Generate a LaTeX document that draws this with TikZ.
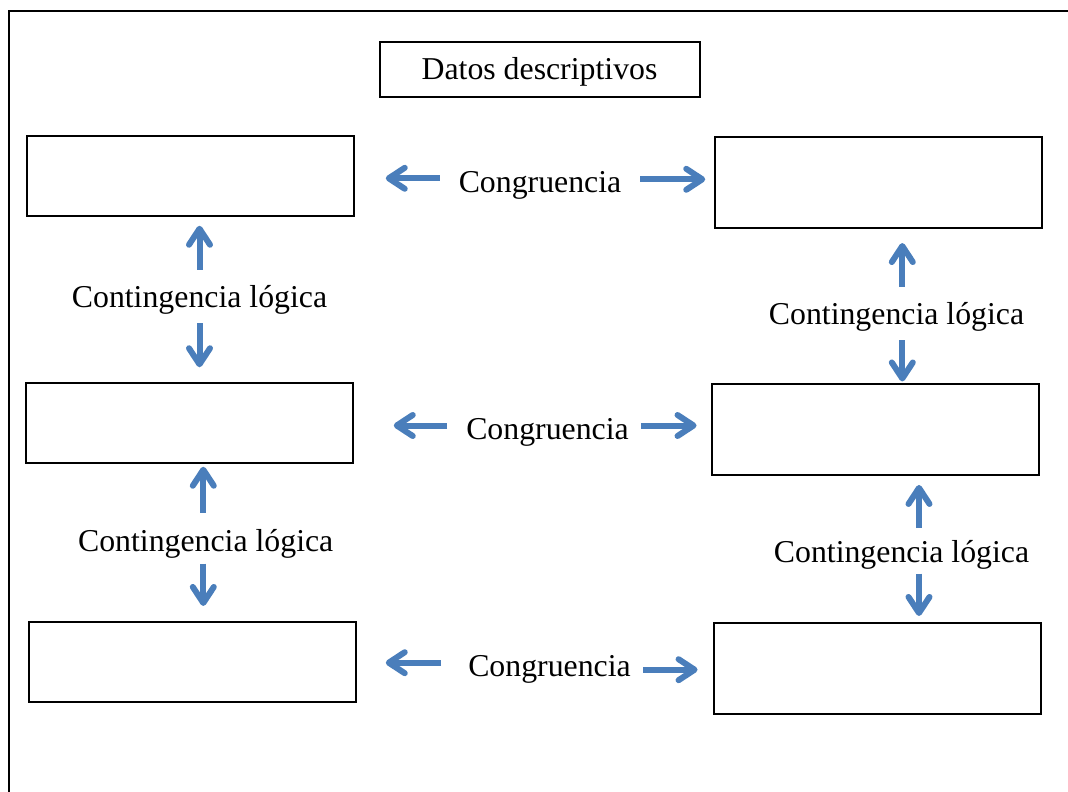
\documentclass[tikz,border=0pt]{standalone}
\usepackage{fontspec}
\setmainfont{Liberation Serif}
\usepackage{tikz}
\usetikzlibrary{positioning, arrows.meta}
\definecolor{arrowblue}{RGB}{74,126,187}

\begin{document}
\fontsize{31.8pt}{38pt}\selectfont
\begin{tikzpicture}[x=1pt, y=-1pt,
    box/.style={draw, line width=1.5pt, minimum width=327pt, minimum height=80pt, inner sep=0pt},
    tallbox/.style={box, minimum height=91pt},
    lbl/.style={inner sep=0pt, text height=22pt, text depth=7pt, anchor=base},
    arrow/.style={-{Straight Barb[round, length=16pt, width=21pt]}, line width=6pt, draw=arrowblue},
]
\useasboundingbox (0,0) rectangle (1068,792);

% Frame
\draw[line width=2pt] (9,792) -- (9,11) -- (1068,11);

% Boxes
\node[box, line width=2pt, minimum width=320pt, minimum height=55pt, text height=22pt, text depth=1pt] (title) at (539.5,69.5) {Datos descriptivos};
\node[box] (l1) at (190.5,176) {};
\node[tallbox] (r1) at (878.5,182.5) {};
\node[box] (l2) at (189.5,423) {};
\node[tallbox] (r2) at (875.5,429.7) {};
\node[box] (l3) at (192.5,662) {};
\node[tallbox] (r3) at (877.5,668.5) {};

% Labels
\node[lbl] (cong1) at (540,192.3) {Congruencia};
\node[lbl] (cong2) at (547.5,439.5) {Congruencia};
\node[lbl] (cong3) at (549.5,676.7) {Congruencia};
\node[lbl] (cont1) at (199.5,307.7) {Contingencia lógica};
\node[lbl] (cont2) at (205.7,551.7) {Contingencia lógica};
\node[lbl] (cont3) at (896.5,324.3) {Contingencia lógica};
\node[lbl] (cont4) at (901.5,562.5) {Contingencia lógica};

% Congruencia arrows
\draw[arrow, shorten <=18.7pt, shorten >=31pt] ([yshift=14pt]cong1.base west) -- ([yshift=14pt]cong1.base west -| l1.east);
\draw[arrow, shorten <=18.7pt, shorten >=9pt] ([yshift=13pt]cong1.base east) -- ([yshift=13pt]cong1.base east -| r1.west);
\draw[arrow, shorten <=19pt, shorten >=40pt] ([yshift=14pt]cong2.base west) -- ([yshift=14pt]cong2.base west -| l2.east);
\draw[arrow, shorten <=12pt, shorten >=14.7pt] ([yshift=14pt]cong2.base east) -- ([yshift=14pt]cong2.base east -| r2.west);
\draw[arrow, shorten <=27pt, shorten >=29pt] ([yshift=14pt]cong3.base west) -- ([yshift=14pt]cong3.base west -| l3.east);
\draw[arrow, shorten <=12.5pt, shorten >=15.7pt] ([yshift=7pt]cong3.base east) -- ([yshift=7pt]cong3.base east -| r3.west);

% Contingencia arrows
\draw[arrow, shorten <=15.7pt, shorten >=9pt] (cont1.north) -- (cont1.north |- l1.south);
\draw[arrow, shorten <=8.3pt, shorten >=15pt] (cont1.south) -- (cont1.south |- l2.north);
\draw[arrow, shorten <=16.7pt, shorten >=3pt] ([xshift=-2.4pt]cont2.north) -- ([xshift=-2.4pt]cont2.north |- l2.south);
\draw[arrow, shorten <=4.6pt, shorten >=15.3pt] ([xshift=-2.4pt]cont2.south) -- ([xshift=-2.4pt]cont2.south |- l3.north);
\draw[arrow, shorten <=15.3pt, shorten >=14.3pt] ([xshift=5.8pt]cont3.north) -- ([xshift=5.8pt]cont3.north |- r1.south);
\draw[arrow, shorten <=8.7pt, shorten >=2pt] ([xshift=5.8pt]cont3.south) -- ([xshift=5.8pt]cont3.south |- r2.north);
\draw[arrow, shorten <=12.2pt, shorten >=9pt] ([xshift=17.5pt]cont4.north) -- ([xshift=17.5pt]cont4.north |- r2.south);
\draw[arrow, shorten <=3.8pt, shorten >=6.3pt] ([xshift=17.5pt]cont4.south) -- ([xshift=17.5pt]cont4.south |- r3.north);

\end{tikzpicture}
\end{document}
